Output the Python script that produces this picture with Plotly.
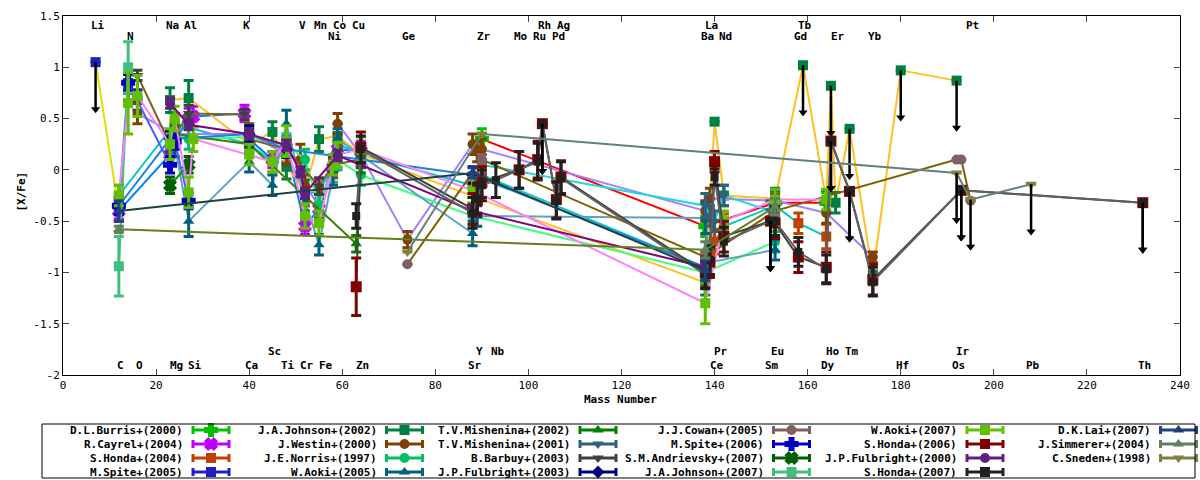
import plotly.graph_objects as go

MASS = {"Li": 7, "C": 12, "N": 14, "O": 16, "Na": 23, "Mg": 24, "Al": 27, "Si": 28,
        "K": 39, "Ca": 40, "Sc": 45, "Ti": 48, "V": 51, "Cr": 52, "Mn": 55, "Fe": 56,
        "Ni": 58, "Co": 59, "Cu": 63, "Zn": 64, "Ge": 74, "Sr": 88, "Y": 89, "Zr": 90,
        "Nb": 93, "Mo": 98, "Ru": 102, "Rh": 103, "Pd": 106, "Ag": 107, "Ba": 138,
        "La": 139, "Ce": 140, "Pr": 141, "Nd": 142, "Sm": 152, "Eu": 153, "Gd": 158,
        "Tb": 159, "Dy": 164, "Ho": 165, "Er": 166, "Tm": 169, "Yb": 174, "Hf": 180,
        "Os": 192, "Ir": 193, "Pt": 195, "Pb": 208, "Th": 232}

# element labels (top two rows, bottom two rows)
TOP1 = ["Li", "Na", "Al", "K", "V", "Mn", "Co", "Cu", "Rh", "Ag", "La", "Tb", "Pt"]
TOP2 = ["N", "Ni", "Ge", "Zr", "Mo", "Ru", "Pd", "Ba", "Nd", "Gd", "Er", "Yb"]
BOT1 = ["Sc", "Y", "Nb", "Pr", "Eu", "Ho", "Tm", "Ir"]
BOT2 = ["C", "O", "Mg", "Si", "Ca", "Ti", "Cr", "Fe", "Zn", "Sr", "Ce", "Sm", "Dy",
        "Hf", "Os", "Pb", "Th"]

X_TICKS = [0, 20, 40, 60, 80, 100, 120, 140, 160, 180, 200, 220, 240]
Y_TICKS = [-2, -1.5, -1, -0.5, 0, 0.5, 1, 1.5]
Y_TICK_TEXT = ["-2", "-1.5", "-1", "-0.5", "0", "0.5", "1", "1.5"]

# ---------------- data ----------------
burris_el = ["Zr", "Ba", "Eu", "Dy"]
burris_val = [0.30, -0.55, -0.32, -0.32]
burris_err = [0.10, 0.10, 0.10, 0.10]
burris_ul = []

cayrel_el = ["C", "Na", "Mg", "Al", "Si", "K", "Ca", "Sc", "Ti", "Cr", "Mn", "Ni", "Co", "Zn"]
cayrel_val = [-0.40, 0.15, 0.28, 0.50, 0.52, 0.55, 0.30, 0.10, 0.22, -0.55, -0.38, 0.02, 0.20, 0.18]
cayrel_err = [0.08, 0.1, 0.08, 0.1, 0.1, 0.08, 0.08, 0.08, 0.08, 0.08, 0.1, 0.08, 0.08, 0.1]
cayrel_ul = []

honda04_el = ["C", "Mg", "Ca", "Sc", "Ti", "Cr", "Mn", "Ni", "Co", "Zn", "Sr", "Y", "Zr",
              "Ba", "La", "Ce", "Nd", "Eu", "Gd", "Dy"]
honda04_val = [-0.25, 0.45, 0.25, 0.08, 0.18, -0.25, -0.20, 0.02, 0.25, 0.15, -0.15, -0.30,
               -0.05, -0.95, -0.80, -0.70, -0.55, -0.35, -0.52, -0.65]
honda04_err = [0.1, 0.1, 0.1, 0.1, 0.1, 0.1, 0.12, 0.1, 0.1, 0.1, 0.12, 0.12, 0.12, 0.12,
               0.12, 0.12, 0.12, 0.12, 0.1, 0.12]
honda04_ul = []

spite05_el = ["Li", "C", "N", "O"]
spite05_val = [1.05, -0.40, 0.78, 0.68]
spite05_err = [0.0, 0.1, 0.1, 0.1]
spite05_ul = ["Li"]

johnson02_el = ["Na", "Al", "Ca", "Sc", "Ti", "Cr", "Mn", "Co", "Zn", "Ba", "Ce", "Nd", "Eu",
                "Tb", "Dy", "Ho", "Er", "Tm", "Yb", "Hf", "Os"]
johnson02_val = [0.68, 0.70, 0.25, 0.37, 0.03, -0.20, 0.30, 0.33, 0.15, -1.10, 0.47, -0.25,
                 -0.28, 1.02, -0.30, 0.82, -0.32, 0.40, -1.02, 0.97, 0.87]
johnson02_err = [0.12, 0.17, 0.1, 0.1, 0.12, 0.1, 0.12, 0.12, 0.1, 0.12, 0.0, 0.1, 0.1,
                 0.0, 0.1, 0.0, 0.1, 0.0, 0.1, 0.0, 0.0]
johnson02_ul = ["Tb", "Ho", "Tm", "Hf", "Os"]

westin_el = ["O", "Mg", "Ca", "Ti", "V", "Cr", "Mn", "Ni", "Co", "Zn", "Ge", "Sr", "Y", "Zr",
             "Ba", "La", "Eu", "Dy", "Yb"]
westin_val = [0.55, 0.35, 0.35, 0.15, 0.10, -0.15, -0.35, 0.05, 0.45, 0.15, -0.68, 0.25,
              0.18, 0.20, -0.40, -0.28, -0.30, -0.42, -0.85]
westin_err = [0.1, 0.1, 0.1, 0.1, 0.15, 0.1, 0.12, 0.1, 0.1, 0.1, 0.08, 0.1, 0.1, 0.1, 0.1,
              0.1, 0.1, 0.1, 0.05]
westin_ul = []

norris_el = ["Mg", "Al", "Ca", "Ti", "Cr", "Mn", "Ni", "Co", "Zn", "Sr", "Ba", "Eu"]
norris_val = [0.35, 0.30, 0.32, 0.25, 0.10, -0.34, -0.02, 0.10, -0.05, -0.45, -1.00, -0.70]
norris_err = [0.1, 0.1, 0.1, 0.1, 0.1, 0.1, 0.1, 0.1, 0.1, 0.1, 0.1, 0.1]
norris_ul = []

aoki05_el = ["Mg", "Al", "Ca", "Sc", "Ti", "Cr", "Mn", "Ni", "Co", "Sr", "Y", "Ba", "La", "Eu"]
aoki05_val = [0.25, -0.50, 0.08, -0.15, 0.45, -0.30, -0.73, -0.05, 0.30, -0.62, -0.45, -0.47,
              -0.90, -0.78]
aoki05_err = [0.12, 0.15, 0.1, 0.1, 0.13, 0.1, 0.1, 0.1, 0.1, 0.12, 0.1, 0.15, 0.13, 0.1]
aoki05_ul = []

mish02_el = ["Mg", "Ca", "Cu", "Zn"]
mish02_val = [0.35, 0.25, -0.72, 0.05]
mish02_err = [0.08, 0.08, 0.08, 0.08]
mish02_ul = []

mish01_el = ["Y", "Zr", "Ba", "La", "Ce", "Nd", "Sm", "Eu"]
mish01_val = [-0.20, 0.05, -0.35, -0.45, -0.50, -0.25, -0.40, -0.30]
mish01_err = [0.1, 0.1, 0.12, 0.1, 0.1, 0.1, 0.1, 0.1]
mish01_ul = []

barbuy_el = ["O", "Na", "Al", "K", "Ca", "Ti", "Mn", "Ni", "Zn"]
barbuy_val = [0.92, 0.25, 0.55, 0.54, 0.30, 0.20, -0.16, 0.05, 0.10]
barbuy_err = [0.05, 0.08, 0.08, 0.05, 0.08, 0.08, 0.08, 0.08, 0.08]
barbuy_ul = []

fulb03_el = ["C", "Na", "Ca", "Ti", "Sr", "Ba"]
fulb03_val = [-0.35, 0.30, 0.35, 0.20, -0.05, -0.95]
fulb03_err = [0.08, 0.08, 0.08, 0.08, 0.08, 0.08]
fulb03_ul = []

cowan_el = ["Ge", "Zr", "Ba", "Eu", "Os", "Ir", "Pt"]
cowan_val = [-0.92, 0.10, -0.85, -0.40, 0.10, 0.10, -0.30]
cowan_err = [0.0, 0.05, 0.05, 0.05, 0.0, 0.0, 0.0]
cowan_ul = []

spite06_el = ["C", "N", "Na", "Mg", "Al"]
spite06_val = [-0.35, 0.85, 0.05, 0.28, -0.30]
spite06_err = [0.08, 0.08, 0.08, 0.08, 0.08]
spite06_ul = []

andr_el = ["Na", "Al"]
andr_val = [-0.15, 0.05]
andr_err = [0.08, 0.08]
andr_ul = []

johnson07_el = ["C", "N"]
johnson07_val = [-0.94, 1.00]
johnson07_err = [0.29, 0.25]
johnson07_ul = []

aoki07_el = ["C", "N", "O", "Na", "Mg", "Al", "Si", "Ca", "Sc", "Ti", "Cr", "Mn", "Ni", "Co",
             "Zn", "Sr", "Ba", "Nd", "Eu", "Dy"]
aoki07_val = [-0.25, 0.65, 0.72, 0.25, 0.50, -0.22, 0.30, 0.15, 0.08, 0.28, -0.45, -0.52,
              0.05, 0.15, 0.20, -0.20, -1.30, -0.50, -0.29, -0.29]
aoki07_err = [0.1, 0.3, 0.2, 0.15, 0.12, 0.15, 0.12, 0.1, 0.1, 0.15, 0.12, 0.12, 0.1, 0.12,
              0.12, 0.12, 0.2, 0.1, 0.1, 0.1]
aoki07_ul = []

honda06_el = ["Cu", "Zn", "Sr", "Y", "Zr", "Mo", "Ru", "Rh", "Pd", "Ag", "Ba", "La", "Ce",
              "Nd", "Sm", "Eu", "Gd", "Dy", "Ho", "Tm", "Yb", "Ir", "Th"]
honda06_val = [-1.14, 0.22, -0.38, -0.30, -0.12, 0.00, 0.10, 0.45, -0.29, -0.07, -1.00,
               -0.90, 0.08, -0.65, -0.50, -0.52, -0.85, -0.95, 0.28, -0.21, -1.07, -0.20, -0.32]
honda06_err = [0.28, 0.15, 0.15, 0.15, 0.15, 0.18, 0.18, 0.0, 0.18, 0.16, 0.15, 0.15, 0.1,
               0.15, 0.0, 0.15, 0.15, 0.15, 0.0, 0.0, 0.15, 0.0, 0.0]
honda06_ul = ["Rh", "Sm", "Ho", "Tm", "Ir", "Th"]

fulb00_el = ["Na", "Al", "Ca", "Ti", "V", "Cr", "Co", "Sr", "Ba"]
fulb00_val = [0.65, 0.44, 0.35, 0.24, -0.02, -0.23, 0.14, -0.40, -0.95]
fulb00_err = [0.05, 0.05, 0.05, 0.05, 0.05, 0.05, 0.05, 0.05, 0.05]
fulb00_ul = []

honda07_el = ["Cu", "Zn", "Sr", "Y", "Zr", "Nb", "Mo", "Ru", "Rh", "Pd", "Ag", "Ba", "La",
              "Ce", "Nd", "Sm", "Eu", "Gd", "Dy", "Ho", "Tm", "Yb", "Ir", "Th"]
honda07_val = [-0.45, 0.20, -0.42, -0.28, -0.15, -0.10, 0.00, 0.08, 0.45, -0.30, -0.08,
               -1.02, -0.88, -0.07, -0.70, -0.50, -0.50, -0.80, -0.97, 0.28, -0.21, -1.09,
               -0.20, -0.32]
honda07_err = [0.12, 0.13, 0.15, 0.15, 0.15, 0.17, 0.18, 0.18, 0.0, 0.18, 0.16, 0.14, 0.14,
               0.08, 0.14, 0.0, 0.14, 0.14, 0.14, 0.0, 0.0, 0.14, 0.0, 0.0]
honda07_ul = ["Rh", "Sm", "Ho", "Tm", "Ir", "Th"]

lai_el = ["C", "Sr", "Ba"]
lai_val = [-0.40, -0.03, -0.98]
lai_err = [0.1, 0.05, 0.1]
lai_ul = []

simm_el = ["C", "Ba", "Eu"]
simm_val = [-0.58, -0.78, -0.36]
simm_err = [0.03, 0.08, 0.08]
simm_ul = []

sneden_el = ["Ge", "Zr", "Os", "Pt", "Pb"]
sneden_val = [-0.80, 0.35, -0.03, -0.29, -0.14]
sneden_err = [0.0, 0.0, 0.0, 0.0, 0.0]
sneden_ul = ["Os", "Pt", "Pb"]

SERIES = [
    ("D.L.Burris+(2000)", burris_el, burris_val, burris_err, burris_ul),
    ("R.Cayrel+(2004)", cayrel_el, cayrel_val, cayrel_err, cayrel_ul),
    ("S.Honda+(2004)", honda04_el, honda04_val, honda04_err, honda04_ul),
    ("M.Spite+(2005)", spite05_el, spite05_val, spite05_err, spite05_ul),
    ("J.A.Johnson+(2002)", johnson02_el, johnson02_val, johnson02_err, johnson02_ul),
    ("J.Westin+(2000)", westin_el, westin_val, westin_err, westin_ul),
    ("J.E.Norris+(1997)", norris_el, norris_val, norris_err, norris_ul),
    ("W.Aoki+(2005)", aoki05_el, aoki05_val, aoki05_err, aoki05_ul),
    ("T.V.Mishenina+(2002)", mish02_el, mish02_val, mish02_err, mish02_ul),
    ("T.V.Mishenina+(2001)", mish01_el, mish01_val, mish01_err, mish01_ul),
    ("B.Barbuy+(2003)", barbuy_el, barbuy_val, barbuy_err, barbuy_ul),
    ("J.P.Fulbright+(2003)", fulb03_el, fulb03_val, fulb03_err, fulb03_ul),
    ("J.J.Cowan+(2005)", cowan_el, cowan_val, cowan_err, cowan_ul),
    ("M.Spite+(2006)", spite06_el, spite06_val, spite06_err, spite06_ul),
    ("S.M.Andrievsky+(2007)", andr_el, andr_val, andr_err, andr_ul),
    ("J.A.Johnson+(2007)", johnson07_el, johnson07_val, johnson07_err, johnson07_ul),
    ("W.Aoki+(2007)", aoki07_el, aoki07_val, aoki07_err, aoki07_ul),
    ("S.Honda+(2006)", honda06_el, honda06_val, honda06_err, honda06_ul),
    ("J.P.Fulbright+(2000)", fulb00_el, fulb00_val, fulb00_err, fulb00_ul),
    ("S.Honda+(2007)", honda07_el, honda07_val, honda07_err, honda07_ul),
    ("D.K.Lai+(2007)", lai_el, lai_val, lai_err, lai_ul),
    ("J.Simmerer+(2004)", simm_el, simm_val, simm_err, simm_ul),
    ("C.Sneden+(1998)", sneden_el, sneden_val, sneden_err, sneden_ul),
]

# style: (marker colour, connecting-line colour, symbol, marker size)
STYLE = [
    ("#00c000", "#ff0000", "cross", 10),
    ("#c000ff", "#0080ff", "x", 10),
    ("#c04000", "#00c8c8", "square", 10),
    ("#2020c0", "#e0e000", "square", 10),
    ("#008040", "#ffc020", "square", 10),
    ("#804000", "#a080ff", "circle", 10),
    ("#00c060", "#40ff80", "circle", 10),
    ("#006080", "#60a0c0", "triangle-up", 10),
    ("#008000", "#408000", "triangle-up", 10),
    ("#306080", "#20d8d8", "triangle-down", 10),
    ("#404040", "#806020", "triangle-down", 10),
    ("#000080", "#2080e0", "diamond", 10),
    ("#806060", "#806000", "circle", 10),
    ("#0000c0", "#4060ff", "cross", 10),
    ("#006000", "#00a000", "x", 10),
    ("#40c080", "#40c080", "square", 10),
    ("#60c000", "#ff80ff", "square", 10),
    ("#800000", "#404040", "square", 11),
    ("#602080", "#800080", "circle", 10),
    ("#202020", "#606060", "square", 8),
    ("#204080", "#204040", "triangle-up", 10),
    ("#608060", "#608020", "triangle-up", 10),
    ("#808040", "#608080", "triangle-down", 10),
]

FONT = "DejaVu Sans Mono"
W, H = 1200, 480
L, R, T, B = 63, 1180, 16, 375

fig = go.Figure()

for (label, els, vals, errs, uls), (mcol, lcol, sym, msz) in zip(SERIES, STYLE):
    xs = [MASS[e] for e in els]
    fig.add_trace(go.Scatter(x=xs, y=vals, mode="lines",
                             line=dict(color=lcol, width=2), hoverinfo="skip"))
    fig.add_trace(go.Scatter(
        x=xs, y=vals, mode="markers",
        marker=dict(symbol=sym, size=msz, color=mcol,
                    line=dict(width=2 if sym in ("x", "cross") else 0, color=mcol)),
        error_y=dict(type="data", array=errs, visible=True, color=mcol,
                     thickness=3, width=5),
        hoverinfo="skip"))
    if uls:
        ax, ay, hx, hy = [], [], [], []
        for e, v in zip(els, vals):
            if e in uls:
                ax += [MASS[e], MASS[e], None]
                ay += [v, v - 0.47, None]
                hx.append(MASS[e])
                hy.append(v - 0.46)
        fig.add_trace(go.Scatter(x=ax, y=ay, mode="lines",
                                 line=dict(color="black", width=2.5), hoverinfo="skip"))
        fig.add_trace(go.Scatter(x=hx, y=hy, mode="markers",
                                 marker=dict(symbol="triangle-down", size=8, color="black"),
                                 hoverinfo="skip"))

# element labels
ann = []
for names, yv in ((TOP1, 1.412), (TOP2, 1.305), (BOT1, -1.766), (BOT2, -1.903)):
    for n in names:
        ann.append(dict(x=MASS[n], y=yv, xref="x", yref="y", text="<b>%s</b>" % n,
                        showarrow=False, xshift=2,
                        font=dict(family=FONT, size=11, color="black")))

ann.append(dict(x=12 / W, y=1 - 192 / H, xref="paper", yref="paper", text="<b>[X/Fe]</b>",
                textangle=-90, showarrow=False, font=dict(family=FONT, size=11, color="black")))
ann.append(dict(x=620 / W, y=1 - 408 / H, xref="paper", yref="paper",
                text="<b>Mass Number</b>", showarrow=False,
                font=dict(family=FONT, size=11, color="black")))

# legend (drawn on a helper subplot in pixel units)
LEG_TOP = 420
for i, ((label, *_), (mcol, lcol, sym, msz)) in enumerate(zip(SERIES, STYLE)):
    col, row = divmod(i, 4)
    xr = 185 + col * 193.5
    yc = 430 + row * 14
    ann.append(dict(x=xr, y=yc, xref="x2", yref="y2", text="<b>%s</b>" % label,
                    xanchor="right", yanchor="middle", showarrow=False,
                    font=dict(family=FONT, size=11, color="black")))
    x0, x1 = xr + 8, xr + 44
    fig.add_trace(go.Scatter(
        x=[x0, x1, None, x0, x0, None, x1, x1], y=[yc, yc, None, yc - 4, yc + 4, None, yc - 4, yc + 4],
        mode="lines", line=dict(color=mcol, width=3), xaxis="x2", yaxis="y2", hoverinfo="skip"))
    fig.add_trace(go.Scatter(
        x=[(x0 + x1) / 2], y=[yc], mode="markers", xaxis="x2", yaxis="y2",
        marker=dict(symbol=sym, size=10, color=mcol,
                    line=dict(width=2 if sym in ("x", "cross") else 0, color=mcol)),
        hoverinfo="skip"))

shapes = [dict(type="rect", xref="x2", yref="y2", x0=42, x1=1195, y0=424, y1=478,
               line=dict(color="black", width=1), fillcolor="rgba(0,0,0,0)")]

fig.update_layout(
    width=W, height=H, margin=dict(l=0, r=0, t=0, b=0, pad=0, autoexpand=False),
    paper_bgcolor="white", plot_bgcolor="rgba(0,0,0,0)",
    showlegend=False, hovermode=False,
    annotations=ann, shapes=shapes,
    xaxis=dict(domain=[L / W, R / W], range=[0, 240], tickvals=X_TICKS, automargin=False,
               ticks="inside", ticklen=6, mirror="ticks", showline=True, linecolor="black",
               linewidth=1, showgrid=False, zeroline=False,
               tickfont=dict(family=FONT, size=11, color="black")),
    yaxis=dict(domain=[1 - B / H, 1 - T / H], range=[-2, 1.5], tickvals=Y_TICKS,
               ticktext=Y_TICK_TEXT, ticks="inside", ticklen=6, mirror="ticks",
               showline=True, linecolor="black", linewidth=1, showgrid=False, automargin=False,
               zeroline=False, tickfont=dict(family=FONT, size=11, color="black")),
    xaxis2=dict(domain=[0, 1], range=[0, W], visible=False, fixedrange=True, anchor="y2",
                automargin=False),
    yaxis2=dict(domain=[0, (H - LEG_TOP) / H], range=[H, LEG_TOP], visible=False,
                fixedrange=True, anchor="x2", automargin=False),
)

fig.write_html("out.html", config={"displayModeBar": False, "staticPlot": True},
               post_script="document.body.style.margin='0px';document.body.style.overflow='hidden';")
